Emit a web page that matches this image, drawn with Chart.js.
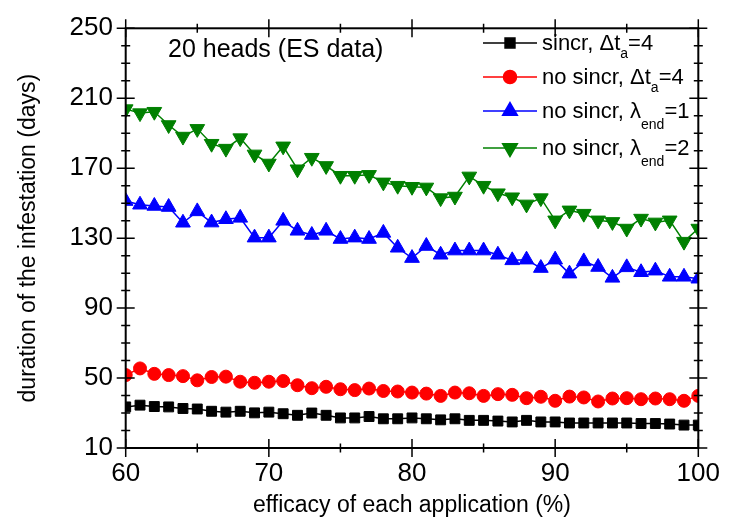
<!DOCTYPE html>
<html>
<head>
<meta charset="utf-8">
<script src="https://cdn.jsdelivr.net/npm/chart.js@4"></script>
<style>
  html, body { margin: 0; padding: 0; background: #fff; }
  canvas { display: block; }
</style>
</head>
<body>
<canvas id="chart" width="730" height="523"></canvas>
<script>
// === Data ===
const efficacy = [60, 61, 62, 63, 64, 65, 66, 67, 68, 69, 70, 71, 72, 73, 74, 75, 76, 77, 78, 79, 80,
  81, 82, 83, 84, 85, 86, 87, 88, 89, 90, 91, 92, 93, 94, 95, 96, 97, 98, 99, 100];

const sincrDt4 = [33.5, 34.5, 33.7, 33.5, 32.6, 32.3, 31.0, 30.5, 31.0, 30.1, 30.5, 29.6, 28.7, 30.0,
  28.7, 27.2, 27.2, 28.0, 26.7, 26.7, 27.2, 26.7, 26.1, 26.7, 25.8, 25.8, 25.4, 24.9, 25.8, 24.9,
  24.9, 24.3, 24.3, 24.3, 24.3, 24.3, 24.0, 24.0, 23.7, 23.1, 23.1];

const noSincrDt4 = [51.7, 55.5, 52.4, 51.7, 51.1, 48.7, 50.6, 50.8, 47.9, 47.3, 47.9, 48.3, 45.9, 44.2,
  45.0, 43.6, 43.1, 44.0, 42.6, 42.3, 41.7, 41.1, 39.8, 41.7, 41.3, 39.8, 40.8, 40.4, 38.5, 39.3,
  37.0, 39.4, 38.9, 36.6, 38.3, 38.5, 37.9, 38.3, 37.9, 37.0, 39.8];

const noSincrL1 = [151.2, 149.1, 148.4, 147.8, 138.8, 145.3, 138.9, 140.8, 141.6, 130.3, 130.3, 139.9,
  134.2, 131.8, 134.2, 129.5, 130.3, 129.5, 133.0, 124.5, 118.6, 125.5, 120.5, 122.9, 122.9, 122.9,
  120.5, 117.3, 117.7, 112.9, 117.7, 109.7, 116.7, 113.5, 107.3, 113.3, 110.5, 111.4, 107.9, 107.9, 106.8];

const noSincrL2 = [203.8, 201.5, 202.3, 194.7, 188.1, 192.5, 184.0, 181.2, 187.2, 177.9, 172.7, 182.5,
  169.4, 176.0, 171.3, 165.7, 165.7, 166.2, 161.9, 160.0, 159.4, 159.0, 152.9, 153.8, 165.3, 160.0,
  155.7, 153.4, 149.3, 152.9, 140.2, 145.9, 144.0, 140.2, 139.3, 135.5, 141.2, 139.0, 140.2, 128.0, 135.5];

const xTicks = [60, 70, 80, 90, 100];
const yTicks = [10, 50, 90, 130, 170, 210, 250];

// legend text pieces (sub = subscript)
const legendLabels = [
  [{ t: "sincr, Δt" }, { t: "a", sub: true }, { t: "=4" }],
  [{ t: "no sincr, Δt" }, { t: "a", sub: true }, { t: "=4" }],
  [{ t: "no sincr, λ" }, { t: "end", sub: true }, { t: "=1" }],
  [{ t: "no sincr, λ" }, { t: "end", sub: true }, { t: "=2" }]
];
const panelNote = "20 heads (ES data)";
const xTitle = "efficacy of each application (%)";
const yTitle = "duration of the infestation (days)";

// === Styles ===
const FONT = "'Liberation Sans', Arial, Helvetica, sans-serif";
const styles = [
  { color: "#000000", pointStyle: "rect", radius: 7, rotation: 0 },
  { color: "#ff0000", pointStyle: "circle", radius: 6.5, rotation: 0 },
  { color: "#0000ff", pointStyle: "triangle", radius: 8.5, rotation: 0 },
  { color: "#008000", pointStyle: "triangle", radius: 8.5, rotation: 180 }
];
const seriesValues = [sincrDt4, noSincrDt4, noSincrL1, noSincrL2];

const datasets = seriesValues.map((vals, i) => ({
  data: efficacy.map((x, j) => ({ x: x, y: vals[j] })),
  borderColor: styles[i].color,
  backgroundColor: styles[i].color,
  borderWidth: 1.5,
  pointStyle: styles[i].pointStyle,
  pointRotation: styles[i].rotation,
  pointRadius: styles[i].radius,
  pointBorderWidth: 1,
  pointBorderColor: styles[i].color,
  pointBackgroundColor: styles[i].color,
  tension: 0
}));

// === Frame with in/out ticks on all four sides ===
const frameAndTicks = {
  id: "frameAndTicks",
  afterDatasetsDraw(chart) {
    const { ctx, chartArea: a, scales: { x, y } } = chart;
    ctx.save();
    ctx.strokeStyle = "#000";
    ctx.lineWidth = 2;
    ctx.strokeRect(a.left, a.top, a.right - a.left, a.bottom - a.top);
    ctx.lineWidth = 1.5;
    ctx.beginPath();
    for (let v = x.min; v <= x.max; v += 5) {
      const px = x.getPixelForValue(v);
      const len = (v - x.min) % 10 === 0 ? 9 : 4.5;
      ctx.moveTo(px, a.bottom - len); ctx.lineTo(px, a.bottom + len);
      ctx.moveTo(px, a.top - len); ctx.lineTo(px, a.top + len);
    }
    for (let v = y.min; v <= y.max; v += 10) {
      const py = y.getPixelForValue(v);
      const len = (v - y.min) % 40 === 0 ? 9 : 4.5;
      ctx.moveTo(a.left - len, py); ctx.lineTo(a.left + len, py);
      ctx.moveTo(a.right - len, py); ctx.lineTo(a.right + len, py);
    }
    ctx.stroke();
    ctx.restore();
  }
};

// === Legend with subscripts + panel note ===
const legendAndNote = {
  id: "legendAndNote",
  afterDraw(chart) {
    const ctx = chart.ctx;
    const rowY = [43, 77, 111, 148];
    const lineX0 = 483, lineX1 = 537, textX = 542;
    ctx.save();
    legendLabels.forEach((parts, i) => {
      const st = styles[i];
      const yy = rowY[i];
      ctx.strokeStyle = st.color;
      ctx.fillStyle = st.color;
      ctx.lineWidth = 1.5;
      ctx.beginPath();
      ctx.moveTo(lineX0, yy);
      ctx.lineTo(lineX1, yy);
      ctx.stroke();
      Chart.helpers.drawPoint(ctx, {
        pointStyle: st.pointStyle, radius: st.radius, rotation: st.rotation, borderWidth: 1
      }, (lineX0 + lineX1) / 2, yy);

      ctx.fillStyle = "#000";
      ctx.textBaseline = "alphabetic";
      ctx.textAlign = "left";
      let cx = textX;
      const base = yy + 7;
      parts.forEach(p => {
        if (p.sub) {
          ctx.font = "14px " + FONT;
          ctx.fillText(p.t, cx, base + (p.t === "a" ? 7.5 : 10.5));
        } else {
          ctx.font = "22px " + FONT;
          ctx.fillText(p.t, cx, base);
        }
        cx += ctx.measureText(p.t).width;
      });
    });
    ctx.font = "25px " + FONT;
    ctx.fillStyle = "#000";
    ctx.fillText(panelNote, 168, 57);
    ctx.restore();
  }
};

new Chart(document.getElementById("chart"), {
  type: "line",
  data: { datasets: datasets },
  options: {
    responsive: false,
    animation: false,
    layout: { padding: { top: 23, right: 24.5, bottom: 0, left: 0 } },
    plugins: {
      legend: { display: false },
      tooltip: { enabled: false }
    },
    scales: {
      x: {
        type: "linear",
        min: 60,
        max: 100,
        afterBuildTicks: s => { s.ticks = xTicks.map(v => ({ value: v })); },
        afterFit: s => { s.height = 75; },
        grid: { display: false, drawTicks: false },
        border: { display: false },
        ticks: { color: "#000", font: { family: FONT, size: 26 }, padding: 10, maxRotation: 0 },
        title: {
          display: true, text: xTitle, color: "#000",
          font: { family: FONT, size: 23 }, padding: { top: 0, bottom: 4 }
        }
      },
      y: {
        type: "linear",
        min: 10,
        max: 250,
        afterBuildTicks: s => { s.ticks = yTicks.map(v => ({ value: v })); },
        afterFit: s => { s.width = 125.7; },
        grid: { display: false, drawTicks: false },
        border: { display: false },
        ticks: { color: "#000", font: { family: FONT, size: 26 }, padding: 12.7 },
        title: {
          display: true, text: yTitle, color: "#000",
          font: { family: FONT, size: 23 }, padding: { top: 15, bottom: 0 }
        }
      }
    }
  },
  plugins: [frameAndTicks, legendAndNote]
});
</script>
</body>
</html>
